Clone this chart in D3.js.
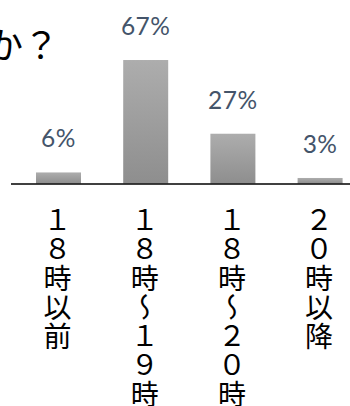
<!DOCTYPE html>
<html>
<head>
<meta charset="utf-8">
<script src="https://cdn.jsdelivr.net/npm/d3@7"></script>
<style>
  html, body { margin: 0; padding: 0; background: #fff; overflow: hidden; }
  svg { display: block; }
</style>
</head>
<body>
<div id="chart"></div>
<script>
// Time-of-day categories and their share of answers (%)
const categories = ["１８時以前", "１８時～１９時", "１８時～２０時", "２０時以降"];
const values = [6, 67, 27, 3];
const valueLabels = ["6%", "67%", "27%", "3%"];
const titleText = "か？";

const W = 350, H = 406;
const baseY = 183.5;

const svg = d3.select("#chart").append("svg")
  .attr("width", W).attr("height", H);

const defs = svg.append("defs");
const grad = defs.append("linearGradient")
  .attr("id", "barGrad")
  .attr("x1", 0).attr("y1", 0).attr("x2", 0).attr("y2", 1);
grad.append("stop").attr("offset", "0%").attr("stop-color", "#adadad");
grad.append("stop").attr("offset", "100%").attr("stop-color", "#8e8e8e");

const x = d3.scaleBand()
  .domain(categories)
  .range([14.9, 363.7])
  .paddingInner(0.484)
  .paddingOuter(0.242);

const y = d3.scaleLinear()
  .domain([0, 100])
  .range([baseY, baseY - 184.3]);

// Title (continues off the left edge)
svg.append("text")
  .attr("x", 59)
  .attr("y", 59)
  .attr("text-anchor", "end")
  .style("font-family", "'Noto Sans CJK JP', sans-serif")
  .style("font-size", "36px")
  .attr("fill", "#000")
  .text(titleText);

// Bars
svg.selectAll("rect.bar")
  .data(values)
  .join("rect")
  .attr("class", "bar")
  .attr("x", (d, i) => x(categories[i]))
  .attr("width", x.bandwidth())
  .attr("y", d => y(d))
  .attr("height", d => baseY - y(d))
  .attr("fill", "url(#barGrad)");

// Value labels
svg.selectAll("text.val")
  .data(values)
  .join("text")
  .attr("class", "val")
  .attr("x", (d, i) => x(categories[i]) + x.bandwidth() / 2)
  .attr("y", d => y(d) - 25)
  .attr("text-anchor", "middle")
  .style("font-family", "Lato, sans-serif")
  .style("font-size", "24.5px")
  .style("letter-spacing", "0.5px")
  .attr("fill", "#44546A")
  .text((d, i) => valueLabels[i]);

// Category axis line
svg.append("line")
  .attr("x1", 11).attr("x2", W)
  .attr("y1", baseY + 0.5).attr("y2", baseY + 0.5)
  .attr("stroke", "#000")
  .attr("stroke-width", 1.5);

// Vertical category labels
svg.selectAll("text.cat")
  .data(categories)
  .join("text")
  .attr("class", "cat")
  .attr("x", d => x(d) + x.bandwidth() / 2 - 1)
  .attr("y", 206)
  .style("writing-mode", "vertical-rl")
  .style("font-family", "'Noto Sans CJK JP', sans-serif")
  .style("font-size", "28px")
  .style("letter-spacing", "1px")
  .attr("fill", "#000")
  .text(d => d);
</script>
</body>
</html>
